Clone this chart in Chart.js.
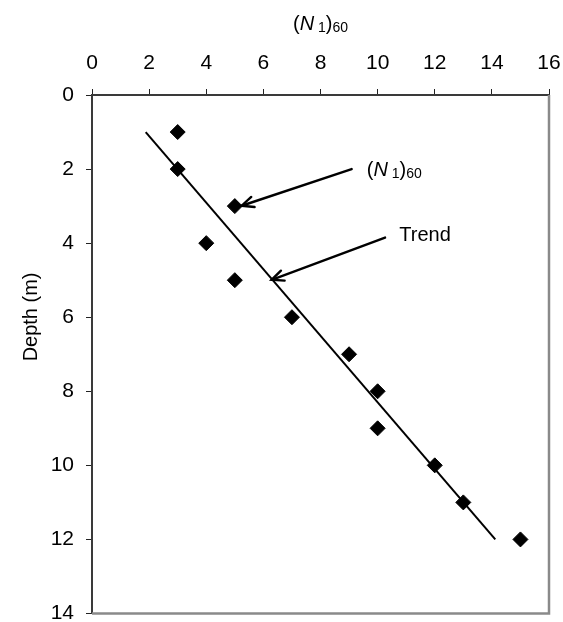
<!DOCTYPE html>
<html><head><meta charset="utf-8">
<script src="https://cdn.jsdelivr.net/npm/chart.js@4/dist/chart.umd.min.js"></script>
<style>html,body{margin:0;padding:0;background:#fff}#wrap{width:563px;height:622px}</style>
</head><body><div id="wrap"><canvas id="c" width="563" height="622"></canvas></div>
<script>
// ---- data ----
const depths = [1, 2, 3, 4, 5, 6, 7, 8, 9, 10, 11, 12];
const n160 = [3, 3, 5, 4, 5, 7, 9, 10, 10, 12, 13, 15];
const trendDepths = [1, 12];
const trendN = [1.88, 14.12];
const xTickValues = [0, 2, 4, 6, 8, 10, 12, 14, 16];
const yTickValues = [0, 2, 4, 6, 8, 10, 12, 14];
const yTitle = 'Depth (m)';
const trendLabel = 'Trend';

const FONT = "'Liberation Sans', Arial, sans-serif";

// rich text "(N1)60": normal, italic, subscript parts
const n160Parts = [
  {t: '(', s: 'n'}, {t: 'N', s: 'i'}, {t: ' 1', s: 'sub'}, {t: ')', s: 'n'}, {t: '60', s: 'sub'}
];
function partFont(s) {
  if (s === 'i') return "italic 20px " + FONT;
  if (s === 'sub') return "14px " + FONT;
  return "20px " + FONT;
}
function richWidth(ctx, parts) {
  let w = 0;
  parts.forEach(p => { ctx.font = partFont(p.s); w += ctx.measureText(p.t).width; });
  return w;
}
function drawRich(ctx, parts, x, y) {
  ctx.textBaseline = 'alphabetic';
  ctx.textAlign = 'left';
  parts.forEach(p => {
    ctx.font = partFont(p.s);
    ctx.fillText(p.t, x, p.s === 'sub' ? y + 2 : y);
    x += ctx.measureText(p.t).width;
  });
}
function arrow(ctx, x1, y1, x2, y2) {
  ctx.save();
  ctx.strokeStyle = '#000';
  ctx.lineWidth = 2.4;
  ctx.lineCap = 'round';
  ctx.beginPath(); ctx.moveTo(x1, y1); ctx.lineTo(x2, y2); ctx.stroke();
  const a = Math.atan2(y2 - y1, x2 - x1);
  const L = 13, h = 0.42;
  ctx.beginPath();
  ctx.moveTo(x2 - L * Math.cos(a - h), y2 - L * Math.sin(a - h));
  ctx.lineTo(x2, y2);
  ctx.lineTo(x2 - L * Math.cos(a + h), y2 - L * Math.sin(a + h));
  ctx.stroke();
  ctx.restore();
}

const decor = {
  id: 'decor',
  beforeDatasetsDraw(chart) {
    const ctx = chart.ctx, a = chart.chartArea;
    ctx.save();
    ctx.strokeStyle = '#8a8a8a';
    ctx.lineWidth = 2.5;
    ctx.beginPath();
    ctx.moveTo(a.right, a.top); ctx.lineTo(a.right, a.bottom); ctx.lineTo(a.left, a.bottom);
    ctx.stroke();
    ctx.restore();
  },
  afterDraw(chart) {
    const ctx = chart.ctx, a = chart.chartArea;
    const xs = chart.scales.x, ys = chart.scales.y;
    ctx.save();
    ctx.fillStyle = '#000';
    // top axis title
    const w = richWidth(ctx, n160Parts);
    drawRich(ctx, n160Parts, (a.left + a.right) / 2 - w / 2, 30);
    // y axis title
    ctx.save();
    ctx.translate(31, a.top + (a.bottom - a.top) * 0.428);
    ctx.rotate(-Math.PI / 2);
    ctx.font = "20px " + FONT;
    ctx.textAlign = 'center';
    ctx.textBaseline = 'middle';
    ctx.fillText(yTitle, 0, 0);
    ctx.restore();
    // annotations
    arrow(ctx, xs.getPixelForValue(9.09), ys.getPixelForValue(2.0), xs.getPixelForValue(5.24), ys.getPixelForValue(2.99));
    arrow(ctx, xs.getPixelForValue(10.26), ys.getPixelForValue(3.85), xs.getPixelForValue(6.29), ys.getPixelForValue(4.99));
    drawRich(ctx, n160Parts, xs.getPixelForValue(9.62), ys.getPixelForValue(2.2));
    ctx.font = "20px " + FONT;
    ctx.textAlign = 'left';
    ctx.textBaseline = 'alphabetic';
    ctx.fillText(trendLabel, xs.getPixelForValue(10.76), ys.getPixelForValue(3.95));
    ctx.restore();
  }
};

new Chart(document.getElementById('c'), {
  type: 'scatter',
  data: {
    datasets: [
      {
        label: '(N1)60',
        data: depths.map((d, i) => ({x: n160[i], y: d})),
        pointStyle: 'rectRot',
        pointRadius: 7.5,
        pointBackgroundColor: '#000',
        pointBorderColor: '#000',
        pointBorderWidth: 1,
        showLine: false,
        order: 1
      },
      {
        label: 'Trend',
        data: trendDepths.map((d, i) => ({x: trendN[i], y: d})),
        showLine: true,
        borderColor: '#000',
        borderWidth: 2,
        pointRadius: 0,
        fill: false,
        order: 2
      }
    ]
  },
  options: {
    responsive: false,
    animation: false,
    devicePixelRatio: 1,
    layout: {padding: {left: 0, right: 14, top: 0, bottom: 8}},
    plugins: {legend: {display: false}, tooltip: {enabled: false}, title: {display: false}},
    scales: {
      x: {
        type: 'linear', position: 'top', min: 0, max: 16,
        afterBuildTicks(s) { s.ticks = xTickValues.map(v => ({value: v})); },
        afterFit(s) { s.height = 95; s.paddingLeft = 0; s.paddingRight = 0; },
        ticks: {color: '#000', font: {family: FONT, size: 21}, padding: 13, maxRotation: 0},
        grid: {drawOnChartArea: false, drawTicks: true, tickLength: 6, tickColor: '#222', tickWidth: 1},
        border: {display: true, color: '#3a3a3a', width: 2}
      },
      y: {
        type: 'linear', reverse: true, min: 0, max: 14,
        afterBuildTicks(s) { s.ticks = yTickValues.map(v => ({value: v})); },
        afterFit(s) { s.width = 92; s.paddingTop = 0; s.paddingBottom = 0; },
        ticks: {color: '#000', font: {family: FONT, size: 21}, padding: 12},
        grid: {drawOnChartArea: false, drawTicks: true, tickLength: 6, tickColor: '#222', tickWidth: 1},
        border: {display: true, color: '#3a3a3a', width: 2}
      }
    }
  },
  plugins: [decor]
});
</script>
</body></html>
